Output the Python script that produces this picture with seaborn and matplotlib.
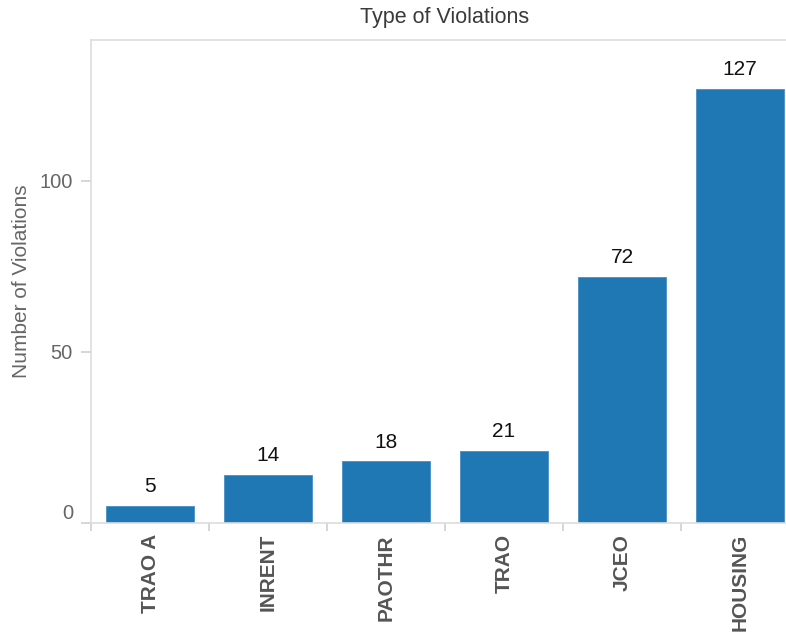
import matplotlib
matplotlib.use("Agg")
import matplotlib.pyplot as plt
import numpy as np
import pandas as pd
import seaborn as sns

violation_types = ["TRAO A", "INRENT", "PAOTHR", "TRAO", "JCEO", "HOUSING"]
violation_counts = [5, 14, 18, 21, 72, 127]
y_ticks = [0, 50, 100]

df = pd.DataFrame({"type": violation_types, "count": violation_counts})

sns.set_style("white")
plt.rcParams["font.family"] = ["Liberation Sans", "DejaVu Sans"]

fig = plt.figure(figsize=(7.86, 6.34), dpi=100)
# axes run a little past the right edge, like the cropped original
ax = fig.add_axes([91 / 786, 111 / 634, 708 / 786, 483 / 634])

sns.barplot(data=df, x="type", y="count", order=violation_types,
            color="#1f77b4", saturation=1, width=0.74, ax=ax,
            edgecolor="#4a90c8", linewidth=0.6)

for p, v in zip(ax.patches, violation_counts):
    ax.annotate(str(v), (p.get_x() + p.get_width() / 2, p.get_height()),
                xytext=(0, 7), textcoords="offset points",
                ha="center", va="bottom", fontsize=15, color="#111111")

ax.set_xlim(-0.5, 5.5)
ax.set_ylim(0, 141.2)
ax.set_yticks(y_ticks)
ax.set_yticklabels([str(t) for t in y_ticks])
zero_lbl = ax.yaxis.get_ticklabels()[0]
zero_lbl.set_verticalalignment("bottom")

ax.set_xticks(np.arange(len(violation_types)))
ax.set_xticklabels(violation_types, rotation=90, fontweight="bold",
                   fontsize=15, color="#555555")
ax.set_xticks(np.arange(-0.5, len(violation_types)), minor=True)
ax.tick_params(axis="x", which="major", bottom=False, length=0, pad=8)
ax.tick_params(axis="x", which="minor", bottom=True, length=6, width=1.2,
               color="#d0d0d0")
ax.tick_params(axis="y", left=True, length=7, width=1.2, color="#d0d0d0", pad=6,
               labelsize=14.5, labelcolor="#666666")

for side in ["left", "top", "bottom"]:
    ax.spines[side].set_visible(True)
    ax.spines[side].set_color("#dddddd")
    ax.spines[side].set_linewidth(1.2)
ax.spines["right"].set_visible(False)

ax.set_xlabel("")
ax.set_ylabel("Number of Violations", fontsize=15, color="#666666", labelpad=6)
ax.set_title("Type of Violations", fontsize=15.5, color="#3a3a3a", pad=12,
             x=(786 / 2 - 91 + 52) / 708)

fig.savefig("out.png", dpi=100)
